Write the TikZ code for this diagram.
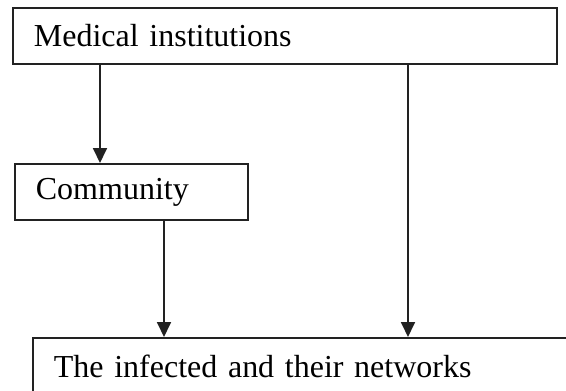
\documentclass[tikz,border=0pt]{standalone}
\usepackage{fontspec}
\setmainfont{Liberation Serif}
\usepackage{tikz}
\usetikzlibrary{arrows.meta}
\definecolor{boxline}{HTML}{222222}
\newcommand{\boxfont}{\fontsize{32}{38}\selectfont}
\tikzset{
  box/.style={draw=boxline, line width=1.8pt, anchor=north west, inner xsep=21pt,
    inner ysep=0pt, minimum height=56pt, align=left, font=\boxfont},
  flow/.style={line width=1.8pt, draw=boxline, -{Triangle[length=15pt,width=14pt]}},
}

\begin{document}
\begin{tikzpicture}[x=1pt,y=-1pt]
  \clip (0,0) rectangle (566,391);
  \fill[white] (0,0) rectangle (566,391);

  \node[box, text width=502pt] (med) at (12,7) {Medical institutions};
  \node[box, text width=191pt] (comm) at (14,163) {Community};
  \node[box, text width=526pt] (inf) at (32,337) {The infected and their networks};

  \coordinate (c1) at (100,0);  % medical -> community
  \coordinate (c2) at (164,0);  % community -> infected
  \coordinate (c3) at (408,0);  % medical -> infected

  \draw[flow] (med.south -| c1) -- (comm.north -| c1);
  \draw[flow] (comm.south -| c2) -- (inf.north -| c2);
  \draw[flow] (med.south -| c3) -- (inf.north -| c3);
\end{tikzpicture}
\end{document}
